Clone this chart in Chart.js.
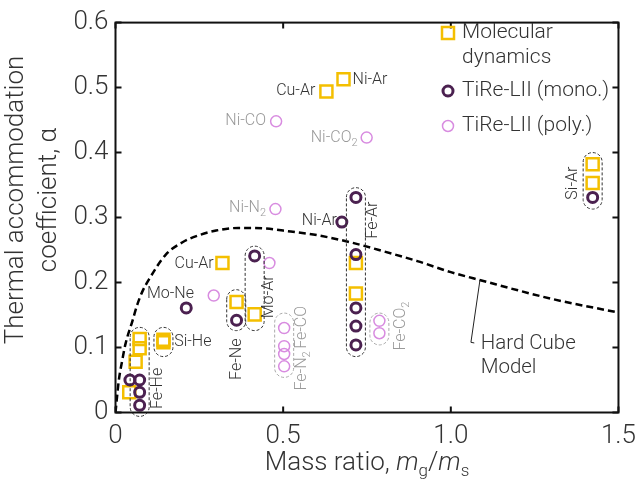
<!DOCTYPE html>
<html lang="en">
<head>
<meta charset="UTF-8">
<title>Thermal accommodation coefficient vs mass ratio</title>
<script src="https://cdn.jsdelivr.net/npm/chart.js"></script>
<style>
  body { margin: 0; background: white; }
  canvas { display: block; }
</style>
</head>
<body>
<canvas id="tacChart" width="644" height="483"></canvas>
<script>
// values (mass ratio mg/ms, alpha)
const mdMass  = [0.629, 0.680, 1.423, 1.423, 0.319, 0.361, 0.415, 0.717, 0.717, 0.143, 0.143, 0.072, 0.072, 0.060, 0.041];
const mdAlpha = [0.494, 0.513, 0.382, 0.353, 0.230, 0.170, 0.151, 0.230, 0.183, 0.112, 0.108, 0.113, 0.099, 0.078, 0.031];

const monoMass  = [0.717, 0.717, 0.717, 0.717, 0.717, 0.675, 1.423, 0.415, 0.211, 0.361, 0.043, 0.072, 0.072, 0.072];
const monoAlpha = [0.331, 0.243, 0.161, 0.133, 0.104, 0.293, 0.331, 0.241, 0.161, 0.142, 0.050, 0.050, 0.031, 0.011];

const polyMass  = [0.479, 0.749, 0.477, 0.459, 0.293, 0.503, 0.503, 0.503, 0.503, 0.787, 0.787];
const polyAlpha = [0.448, 0.423, 0.313, 0.230, 0.180, 0.130, 0.102, 0.090, 0.071, 0.141, 0.122];

// hard cube model curve, traced
const hcMass  = [0, 0.01, 0.02, 0.03, 0.05, 0.065, 0.08, 0.1, 0.15, 0.2, 0.25, 0.3, 0.366, 0.45, 0.5, 0.6, 0.7, 0.8, 0.9, 1.0, 1.1, 1.2, 1.3, 1.4, 1.5];
const hcAlpha = [0, 0.05, 0.08, 0.106, 0.14, 0.166, 0.186, 0.205, 0.243, 0.262, 0.273, 0.280, 0.284, 0.283, 0.280, 0.273, 0.262, 0.248, 0.233, 0.216, 0.202, 0.188, 0.175, 0.164, 0.154];

const xTicks = [0, 0.5, 1.0, 1.5];
const yTicks = [0, 0.1, 0.2, 0.3, 0.4, 0.5, 0.6];

// pair labels (anchored in data units)
const pairLabels = [
  { text: 'Cu-Ar', x: 0.596, y: 0.494, align: 'right' },
  { text: 'Ni-Ar', x: 0.707, y: 0.512, align: 'left' },
  { text: 'Ni-CO', x: 0.449, y: 0.449, align: 'right', gray: true },
  { text: 'Ni-CO', sub: '2', x: 0.722, y: 0.422, align: 'right', gray: true },
  { text: 'Ni-N', sub: '2', x: 0.449, y: 0.314, align: 'right', gray: true },
  { text: 'Cu-Ar', x: 0.293, y: 0.228, align: 'right' },
  { text: 'Mo-Ne', x: 0.234, y: 0.182, align: 'right' },
  { text: 'Ni-Ar', x: 0.660, y: 0.294, align: 'right' },
  { text: 'Si-He', x: 0.175, y: 0.109, align: 'left' },
  { text: 'Fe-He', x: 0.126, y: 0.037, align: 'center', rot: true },
  { text: 'Fe-Ne', x: 0.361, y: 0.082, align: 'center', rot: true },
  { text: 'Mo-Ar', x: 0.459, y: 0.178, align: 'center', rot: true },
  { text: 'Fe-CO', x: 0.557, y: 0.131, align: 'center', rot: true, gray: true },
  { text: 'Fe-N', sub: '2', x: 0.557, y: 0.064, align: 'center', rot: true, gray: true },
  { text: 'Fe-CO', sub: '2', x: 0.851, y: 0.133, align: 'center', rot: true, gray: true },
  { text: 'Fe-Ar', x: 0.768, y: 0.296, align: 'center', rot: true },
  { text: 'Si-Ar', x: 1.364, y: 0.353, align: 'center', rot: true }
];

// dashed groupings: centre mass ratio, top and bottom alpha
const groups = [
  { x: 0.072, top: 0.131, bottom: -0.006 },
  { x: 0.143, top: 0.131, bottom: 0.086 },
  { x: 0.360, top: 0.189, bottom: 0.126 },
  { x: 0.415, top: 0.256, bottom: 0.126 },
  { x: 0.503, top: 0.153, bottom: 0.054, gray: true },
  { x: 0.787, top: 0.153, bottom: 0.104, gray: true },
  { x: 0.717, top: 0.346, bottom: 0.086 },
  { x: 1.423, top: 0.400, bottom: 0.313 }
];

const GOLD = '#f4bf00';
const PLUM = '#4b2150';
const ORCHID = '#d88ce0';
const FONT = 'Roboto, "Noto Sans", sans-serif';

function pill(ctx, cx, y0, y1, w) {
  const r = w / 2;
  ctx.beginPath();
  ctx.moveTo(cx - r, y0 + r);
  ctx.arc(cx, y0 + r, r, Math.PI, 0);
  ctx.lineTo(cx + r, y1 - r);
  ctx.arc(cx, y1 - r, r, 0, Math.PI);
  ctx.closePath();
  ctx.stroke();
}

function drawLabel(ctx, lab, px, py) {
  const main = '300 16px ' + FONT;
  const small = '300 11px ' + FONT;
  ctx.save();
  ctx.translate(px, py);
  if (lab.rot) ctx.rotate(-Math.PI / 2);
  ctx.font = main;
  const w1 = ctx.measureText(lab.text).width;
  ctx.font = small;
  const w2 = lab.sub ? ctx.measureText(lab.sub).width : 0;
  const total = w1 + w2;
  let x0 = 0;
  if (lab.align === 'right') x0 = -total;
  if (lab.align === 'center') x0 = -total / 2;
  ctx.fillStyle = lab.gray ? '#9a9a9a' : '#333';
  ctx.textAlign = 'left';
  ctx.textBaseline = 'middle';
  ctx.font = main;
  ctx.fillText(lab.text, x0, 0);
  if (lab.sub) {
    ctx.font = small;
    ctx.fillText(lab.sub, x0 + w1, 5);
  }
  ctx.restore();
}

const decorPlugin = {
  id: 'decor',
  afterDatasetsDraw(chart) {
    const ctx = chart.ctx;
    const xs = chart.scales.x, ys = chart.scales.y;
    const a = chart.chartArea;

    // group outlines
    ctx.save();
    ctx.lineWidth = 1;
    ctx.setLineDash([3, 2]);
    groups.forEach(g => {
      ctx.strokeStyle = g.gray ? '#aaa' : '#333';
      pill(ctx, xs.getPixelForValue(g.x), ys.getPixelForValue(g.top), ys.getPixelForValue(g.bottom), 19);
    });
    ctx.restore();

    pairLabels.forEach(l => drawLabel(ctx, l, xs.getPixelForValue(l.x), ys.getPixelForValue(l.y)));

    // hard cube model callout
    ctx.save();
    ctx.strokeStyle = '#222';
    ctx.lineWidth = 1;
    ctx.beginPath();
    ctx.moveTo(xs.getPixelForValue(1.087), ys.getPixelForValue(0.204));
    ctx.lineTo(xs.getPixelForValue(1.060), ys.getPixelForValue(0.108));
    ctx.lineTo(xs.getPixelForValue(1.070), ys.getPixelForValue(0.107));
    ctx.stroke();
    ctx.fillStyle = '#333';
    ctx.font = '300 20.5px ' + FONT;
    ctx.textBaseline = 'middle';
    ctx.textAlign = 'left';
    ctx.fillText('Hard Cube', xs.getPixelForValue(1.089), ys.getPixelForValue(0.106));
    ctx.fillText('Model', xs.getPixelForValue(1.089), ys.getPixelForValue(0.068));
    ctx.restore();

    // frame and inward ticks
    ctx.save();
    ctx.strokeStyle = '#111';
    ctx.lineWidth = 2;
    ctx.strokeRect(a.left, a.top, a.right - a.left, a.bottom - a.top);
    ctx.beginPath();
    yTicks.forEach(v => {
      const py = ys.getPixelForValue(v);
      ctx.moveTo(a.left, py); ctx.lineTo(a.left + 6, py);
      ctx.moveTo(a.right, py); ctx.lineTo(a.right - 6, py);
    });
    xTicks.forEach(v => {
      const px = xs.getPixelForValue(v);
      ctx.moveTo(px, a.bottom); ctx.lineTo(px, a.bottom - 6);
      ctx.moveTo(px, a.top); ctx.lineTo(px, a.top + 6);
    });
    ctx.stroke();
    ctx.restore();

    // legend
    ctx.save();
    const lx = 448;
    ctx.lineWidth = 2.5;
    ctx.strokeStyle = GOLD;
    ctx.strokeRect(lx - 6, 27, 12, 12);
    ctx.lineWidth = 3;
    ctx.strokeStyle = PLUM;
    ctx.beginPath(); ctx.arc(lx, 91, 5, 0, 2 * Math.PI); ctx.stroke();
    ctx.lineWidth = 1.5;
    ctx.strokeStyle = ORCHID;
    ctx.beginPath(); ctx.arc(lx, 126, 5.5, 0, 2 * Math.PI); ctx.stroke();
    ctx.fillStyle = '#333';
    ctx.font = '300 21px ' + FONT;
    ctx.textBaseline = 'middle';
    ctx.fillText('Molecular', 462, 33);
    ctx.fillText('dynamics', 462, 58);
    ctx.fillText('TiRe-LII (mono.)', 462, 91);
    ctx.fillText('TiRe-LII (poly.)', 462, 126);
    ctx.restore();

    // axis titles
    ctx.save();
    ctx.fillStyle = '#333';
    ctx.textBaseline = 'alphabetic';
    ctx.font = '300 26px ' + FONT;
    ctx.textAlign = 'center';
    const cy = 200;
    ctx.translate(23, cy); ctx.rotate(-Math.PI / 2);
    ctx.fillText('Thermal accommodation', 0, 0);
    ctx.fillText('coefficient, α', 0, 33);
    ctx.restore();

    ctx.save();
    ctx.fillStyle = '#333';
    ctx.textBaseline = 'alphabetic';
    const parts = [
      ['Mass ratio, ', '300 26px ' + FONT, 0],
      ['m', 'italic 300 26px ' + FONT, 0],
      ['g', '300 17px ' + FONT, 6],
      ['/', '300 26px ' + FONT, 0],
      ['m', 'italic 300 26px ' + FONT, 0],
      ['s', '300 17px ' + FONT, 6]
    ];
    let tw = 0;
    parts.forEach(p => { ctx.font = p[1]; tw += ctx.measureText(p[0]).width; });
    let tx = (a.left + a.right) / 2 - tw / 2;
    parts.forEach(p => {
      ctx.font = p[1];
      ctx.fillText(p[0], tx, 470 + p[2]);
      tx += ctx.measureText(p[0]).width;
    });
    ctx.restore();
  }
};

const tickFmt = v => (v === 0 ? '0' : v.toFixed(1));

new Chart(document.getElementById('tacChart').getContext('2d'), {
  type: 'scatter',
  data: {
    datasets: [
      {
        label: 'TiRe-LII (poly.)',
        data: polyMass.map((m, i) => ({ x: m, y: polyAlpha[i] })),
        pointStyle: 'circle', pointRadius: 5.5, pointBorderWidth: 1.5,
        borderColor: ORCHID, backgroundColor: 'rgba(0,0,0,0)', order: 1
      },
      {
        label: 'TiRe-LII (mono.)',
        data: monoMass.map((m, i) => ({ x: m, y: monoAlpha[i] })),
        pointStyle: 'circle', pointRadius: 5, pointBorderWidth: 3,
        borderColor: PLUM, backgroundColor: 'rgba(0,0,0,0)', order: 2
      },
      {
        label: 'Molecular dynamics',
        data: mdMass.map((m, i) => ({ x: m, y: mdAlpha[i] })),
        pointStyle: 'rect', pointRadius: 8.5, pointBorderWidth: 2.5,
        borderColor: GOLD, backgroundColor: 'rgba(0,0,0,0)', order: 3
      },
      {
        type: 'line',
        label: 'Hard Cube Model',
        data: hcMass.map((m, i) => ({ x: m, y: hcAlpha[i] })),
        borderColor: '#000', borderWidth: 2.5, borderDash: [7, 4],
        pointRadius: 0, cubicInterpolationMode: 'monotone', fill: false, order: 0
      }
    ]
  },
  options: {
    responsive: false,
    animation: false,
    events: [],
    layout: { padding: { top: 12, right: 19, left: 0, bottom: 0 } },
    plugins: { legend: { display: false }, tooltip: { enabled: false } },
    scales: {
      x: {
        type: 'linear', min: 0, max: 1.5,
        afterBuildTicks: s => { s.ticks = xTicks.map(v => ({ value: v })); },
        afterFit: s => { s.height = 70.5; },
        grid: { display: false, drawTicks: false },
        border: { display: false },
        ticks: { callback: tickFmt, padding: 8, color: '#333', maxRotation: 0,
                 font: { family: FONT, size: 26, weight: 300 } }
      },
      y: {
        type: 'linear', min: 0, max: 0.6,
        afterBuildTicks: s => { s.ticks = yTicks.map(v => ({ value: v })); },
        afterFit: s => { s.width = 115.5; },
        grid: { display: false, drawTicks: false },
        border: { display: false },
        ticks: { callback: tickFmt, padding: 7, color: '#333',
                 font: { family: FONT, size: 26, weight: 300 } }
      }
    }
  },
  plugins: [decorPlugin]
});
</script>
</body>
</html>
